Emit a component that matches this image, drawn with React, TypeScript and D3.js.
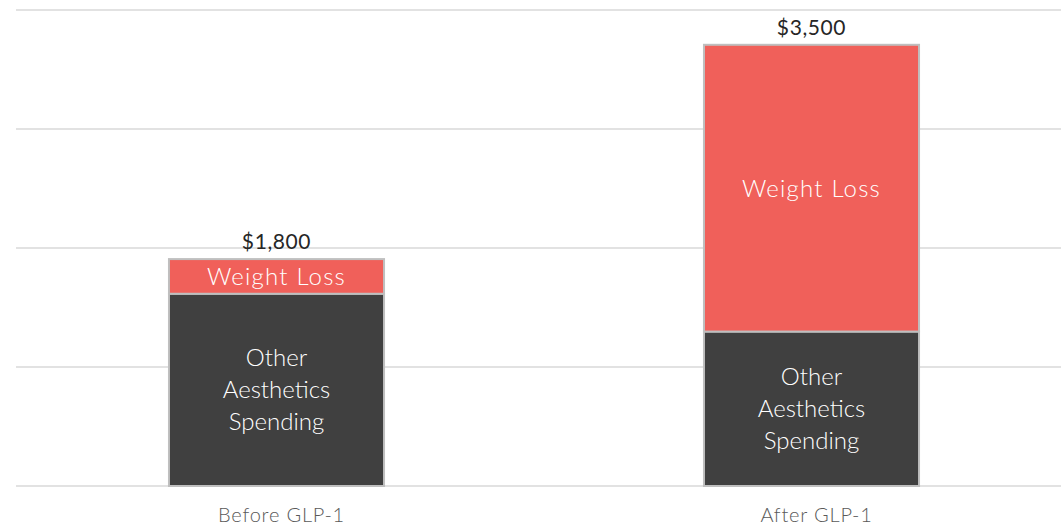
import React from "react";
import * as d3 from "d3";

const categories = ["Before GLP-1", "After GLP-1"];
const otherSpending = [1525, 1225];
const weightLoss = [275, 2275];
const totalLabels = ["$1,800", "$3,500"];
const seriesNames = ["Other Aesthetics Spending", "Weight Loss"];
const gridValues = [0, 944, 1888, 2832, 3776];

const W = 1061;
const H = 526;
const FONT = "Lato, 'Open Sans', sans-serif";

export default function App() {
  const y = d3.scaleLinear().domain([0, 3776]).range([486, 10]);
  const x = d3.scaleBand<string>().domain(categories).range([9, 1079]).padding(0);
  const barW = x.bandwidth() * 0.402;

  const stackData = categories.map((c, i) => ({ cat: c, other: otherSpending[i], wl: weightLoss[i] }));
  const stack = d3.stack<any>().keys(["other", "wl"]);
  const series = stack(stackData);
  const colors = ["#404040", "#f0605a"];

  return (
    <svg width={W} height={H} style={{ position: "absolute", left: 0, top: 0, background: "#fff" }}>
      {gridValues.map((g) => (
        <line key={g} x1={16} x2={W} y1={y(g)} y2={y(g)} stroke="#d9d9d9" strokeWidth={1.5} />
      ))}
      {series.map((s, si) =>
        s.map((d, i) => {
          const cx = (x(categories[i]) as number) + x.bandwidth() / 2;
          const y0 = y(d[0]);
          const y1 = y(d[1]);
          const h = y0 - y1;
          const isOther = si === 0;
          const lines = isOther ? ["Other", "Aesthetics", "Spending"] : ["Weight Loss"];
          const lh = 32;
          const midY = (y0 + y1) / 2;
          return (
            <g key={`${si}-${i}`}>
              <rect x={cx - barW / 2} y={y1} width={barW} height={h} fill={colors[si]} stroke="#bfbfbf" strokeWidth={2} />
              {lines.map((t, li) => (
                <text
                  key={li}
                  x={cx}
                  y={midY + (li - (lines.length - 1) / 2) * lh}
                  dy="0.35em"
                  textAnchor="middle"
                  fill="#ffffff"
                  fontFamily={FONT}
                  fontWeight={300}
                  fontSize={24}
                  letterSpacing={isOther ? 0 : 1.2}
                >
                  {t}
                </text>
              ))}
            </g>
          );
        })
      )}
      {categories.map((c, i) => {
        const cx = (x(c) as number) + x.bandwidth() / 2;
        const top = y(otherSpending[i] + weightLoss[i]);
        return (
          <g key={c}>
            <text x={cx} y={top - 10} textAnchor="middle" fill="#262626" fontFamily={FONT} fontSize={21} letterSpacing={0.6}>
              {totalLabels[i]}
            </text>
            <text x={cx + 5} y={522} textAnchor="middle" fill="#595959" fontFamily={FONT} fontWeight={300} fontSize={20} letterSpacing={0.8}>
              {c}
            </text>
          </g>
        );
      })}
    </svg>
  );
}
